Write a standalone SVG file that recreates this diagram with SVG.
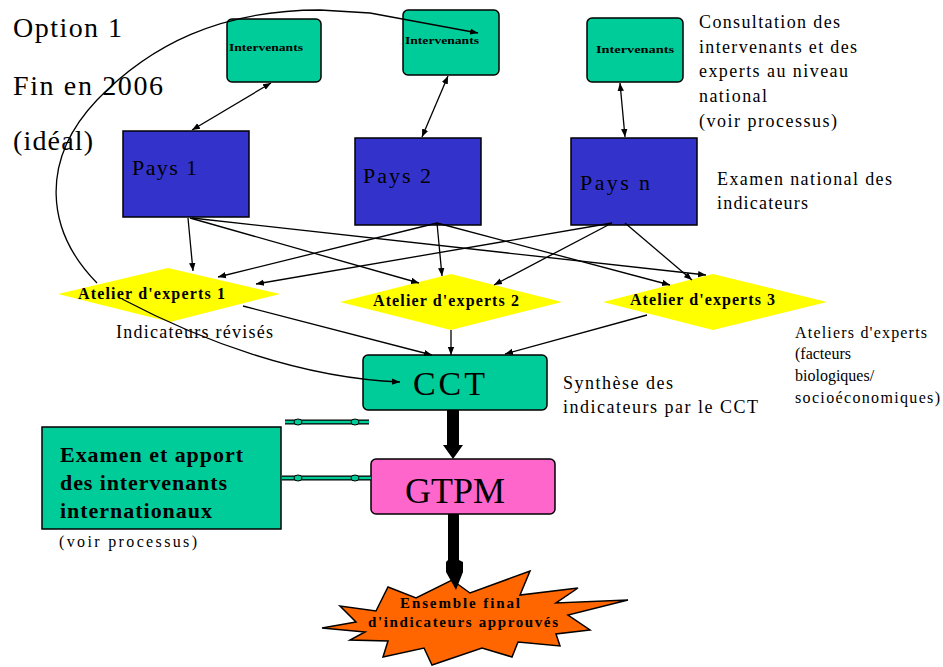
<svg xmlns="http://www.w3.org/2000/svg" width="943" height="667" viewBox="0 0 943 667" font-family="'Liberation Serif', 'Times New Roman', serif">
<defs>
<style>
text{font-family:"Liberation Serif","Times New Roman",serif;fill:#000}
.lbl{font-size:18px}
.sm{font-size:16px}
.int{font-size:10px;font-weight:bold}
.at{font-size:16px;font-weight:bold}
.teal{fill:#00CC99;stroke:#000;stroke-width:1.5}
.blue{fill:#3333CC;stroke:#000;stroke-width:1.5}
.yel{fill:#FFFF00;stroke:none}
.pink{fill:#FF66CC;stroke:#000;stroke-width:1.5}
.org{fill:#FF6600;stroke:#000;stroke-width:1.5}
.ln{fill:none;stroke:#000;stroke-width:1.3}
.dbl-o{stroke:#000;stroke-width:5;fill:none}
.dbl-i{stroke:#00CC99;stroke-width:2.5;fill:none}
.dot{fill:#00CC99;stroke:#000;stroke-width:1}
</style>
<marker id="ah" viewBox="0 0 10 10" refX="10" refY="5" markerWidth="8" markerHeight="8" markerUnits="userSpaceOnUse" orient="auto-start-reverse">
<path d="M0,1 L10,5 L0,9 z" fill="#000"/>
</marker>
</defs>

<g id="titles">
<text x="13" y="37" style="font-size:28px" textLength="109" lengthAdjust="spacing">Option 1</text>
<text x="13" y="95" style="font-size:28px" textLength="150" lengthAdjust="spacing">Fin en 2006</text>
<text x="13" y="150" style="font-size:28px" textLength="80" lengthAdjust="spacing">(idéal)</text>
</g>

<g id="int1">
<rect class="teal" x="227" y="19" width="94" height="63" rx="5"/>
<text class="int" x="229" y="51" textLength="74" lengthAdjust="spacingAndGlyphs">Intervenants</text>
</g>
<g id="int2">
<rect class="teal" x="403" y="10" width="96" height="65" rx="5"/>
<text class="int" x="405" y="44" textLength="74" lengthAdjust="spacingAndGlyphs">Intervenants</text>
</g>
<g id="int3">
<rect class="teal" x="587" y="18" width="96" height="64" rx="5"/>
<text class="int" x="596" y="53" textLength="78" lengthAdjust="spacingAndGlyphs">Intervenants</text>
</g>

<g id="pays1">
<rect class="blue" x="123" y="131" width="126" height="86"/>
<text x="132" y="175" style="font-size:22px" textLength="65" lengthAdjust="spacing">Pays 1</text>
</g>
<g id="pays2">
<rect class="blue" x="355" y="138" width="126" height="87"/>
<text x="363" y="183" style="font-size:22px" textLength="68" lengthAdjust="spacing">Pays 2</text>
</g>
<g id="paysn">
<rect class="blue" x="571" y="138" width="126" height="87"/>
<text x="580" y="190" style="font-size:22px" textLength="70" lengthAdjust="spacing">Pays n</text>
</g>

<g id="atelier1">
<polygon class="yel" points="168,268 280,294 170,322 58,294"/>
<text class="at" x="78" y="299" textLength="147" lengthAdjust="spacing">Atelier d'experts 1</text>
</g>
<g id="atelier2">
<polygon class="yel" points="451,274 562,302 451,330 340,302"/>
<text class="at" x="373" y="306" textLength="146" lengthAdjust="spacing">Atelier d'experts 2</text>
</g>
<g id="atelier3">
<polygon class="yel" points="713,274 827,302 713,330 603,302"/>
<text class="at" x="630" y="305" textLength="145" lengthAdjust="spacing">Atelier d'experts 3</text>
</g>

<g id="cct">
<rect class="teal" x="363" y="355" width="184" height="55" rx="5"/>
<text x="413" y="395" style="font-size:34px" textLength="72" lengthAdjust="spacing">CCT</text>
</g>
<g id="gtpm">
<rect class="pink" x="371" y="459" width="184" height="55" rx="5"/>
<text x="405" y="503" style="font-size:36px" textLength="100" lengthAdjust="spacing">GTPM</text>
</g>

<g id="intl">
<rect class="teal" x="42" y="427" width="239" height="102"/>
<text x="60" y="462" style="font-size:22px;font-weight:bold" textLength="183" lengthAdjust="spacing">Examen et apport</text>
<text x="60" y="490" style="font-size:22px;font-weight:bold" textLength="167" lengthAdjust="spacing">des intervenants</text>
<text x="60" y="518" style="font-size:22px;font-weight:bold" textLength="152" lengthAdjust="spacing">internationaux</text>
<text class="sm" x="59" y="547" textLength="138" lengthAdjust="spacing">(voir processus)</text>
</g>

<g id="final">
<polygon class="org" points="322,628 356,622 340,606 376,611 388,587 416,598 452,580 470,593 530,571 520,595 578,588 556,603 628,600 568,615 590,630 556,634 560,646 518,642 512,657 482,648 432,665 424,648 383,657 388,641 350,640 365,632"/>
<text x="400" y="608" style="font-size:15px;font-weight:bold" textLength="120" lengthAdjust="spacing">Ensemble final</text>
<text x="368" y="627" style="font-size:15px;font-weight:bold" textLength="190" lengthAdjust="spacing">d'indicateurs approuvés</text>
</g>

<g id="connectors">
<path class="ln" d="M97 283 C45 230 40 160 97 100 C150 45 220 10 320 10 L370 13 L478 33" marker-end="url(#ah)"/>
<line class="ln" x1="192" y1="130" x2="271" y2="83" marker-start="url(#ah)" marker-end="url(#ah)"/>
<line class="ln" x1="422" y1="137" x2="448" y2="76" marker-start="url(#ah)" marker-end="url(#ah)"/>
<line class="ln" x1="625" y1="137" x2="620" y2="83" marker-start="url(#ah)" marker-end="url(#ah)"/>
<line class="ln" x1="188" y1="218" x2="193" y2="271" marker-end="url(#ah)"/>
<line class="ln" x1="190" y1="218" x2="419" y2="283" marker-end="url(#ah)"/>
<line class="ln" x1="192" y1="218" x2="706" y2="275" marker-end="url(#ah)"/>
<line class="ln" x1="437" y1="223" x2="218" y2="277" marker-end="url(#ah)"/>
<line class="ln" x1="437" y1="223" x2="442" y2="276" marker-end="url(#ah)"/>
<line class="ln" x1="437" y1="223" x2="670" y2="285" marker-end="url(#ah)"/>
<line class="ln" x1="612" y1="223" x2="256" y2="284" marker-end="url(#ah)"/>
<line class="ln" x1="612" y1="223" x2="494" y2="285" marker-end="url(#ah)"/>
<line class="ln" x1="625" y1="223" x2="692" y2="280" marker-end="url(#ah)"/>
<line class="ln" x1="243" y1="306" x2="432" y2="355" marker-end="url(#ah)"/>
<line class="ln" x1="451" y1="330" x2="451" y2="355" marker-end="url(#ah)"/>
<line class="ln" x1="647" y1="315" x2="505" y2="354" marker-end="url(#ah)"/>
<path class="ln" d="M122 299 C200 340 300 378 400 382" marker-end="url(#ah)"/>
<polygon points="447,410 459,410 459,445 463,445 453,459 443,445 447,445" fill="#000"/>
<polygon points="448,514 459,514 459,560 463,562 463,572 456,590 446,572 446,562 448,560" fill="#000"/>
<g>
<line class="dbl-o" x1="285" y1="422" x2="369" y2="422"/>
<line class="dbl-i" x1="285" y1="422" x2="369" y2="422"/>
<ellipse class="dot" cx="298" cy="422" rx="4" ry="3"/>
<ellipse class="dot" cx="355" cy="422" rx="4" ry="3"/>
</g>
<g>
<line class="dbl-o" x1="282" y1="478" x2="371" y2="478"/>
<line class="dbl-i" x1="282" y1="478" x2="371" y2="478"/>
<ellipse class="dot" cx="298" cy="478" rx="4" ry="3"/>
<ellipse class="dot" cx="355" cy="478" rx="4" ry="3"/>
</g>
</g>

<g id="notes">
<text class="lbl" x="699" y="28" textLength="141" lengthAdjust="spacing">Consultation des</text>
<text class="lbl" x="699" y="53" textLength="158" lengthAdjust="spacing">intervenants et des</text>
<text class="lbl" x="699" y="77" textLength="149" lengthAdjust="spacing">experts au niveau</text>
<text class="lbl" x="699" y="102" textLength="68" lengthAdjust="spacing">national</text>
<text class="lbl" x="699" y="127" textLength="138" lengthAdjust="spacing">(voir processus)</text>
<text class="lbl" x="717" y="185" textLength="175" lengthAdjust="spacing">Examen national des</text>
<text class="lbl" x="717" y="209" textLength="91" lengthAdjust="spacing">indicateurs</text>
<text class="lbl" x="116" y="338" textLength="157" lengthAdjust="spacing">Indicateurs révisés</text>
<text class="lbl" x="563" y="389" textLength="110" lengthAdjust="spacing">Synthèse des</text>
<text class="lbl" x="563" y="413" textLength="195" lengthAdjust="spacing">indicateurs par le CCT</text>
<text class="sm" x="795" y="338" textLength="132" lengthAdjust="spacing">Ateliers d'experts</text>
<text class="sm" x="795" y="359">(facteurs</text>
<text class="sm" x="795" y="381">biologiques/</text>
<text class="sm" x="795" y="403" textLength="145" lengthAdjust="spacing">socioéconomiques)</text>
</g>
</svg>
